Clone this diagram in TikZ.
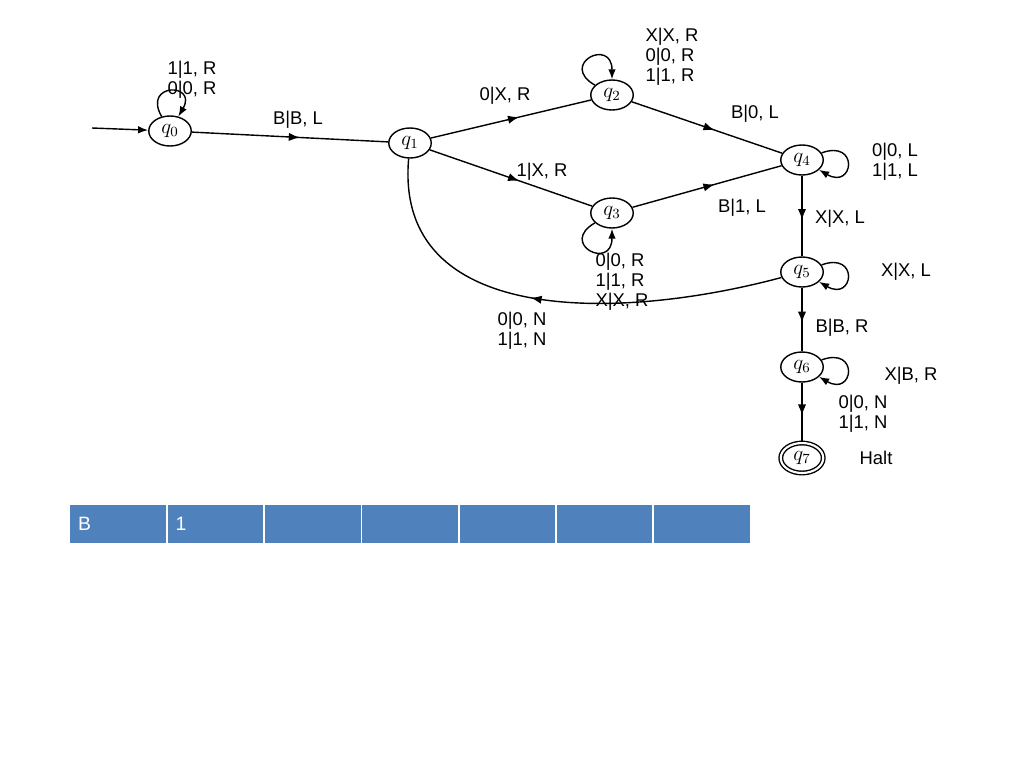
\documentclass[tikz,border=0pt]{standalone}
\usepackage{fontspec}
\setmainfont{Liberation Sans}
\usetikzlibrary{arrows.meta,shapes.geometric,decorations.markings}
\definecolor{cellblue}{RGB}{79,129,189}
\tikzset{
  state/.style={ellipse,draw,thick,minimum width=0.85cm,minimum height=0.6cm,inner sep=0pt,font=\large},
  midarrow/.style={thick,decoration={markings,mark=at position 0.55 with {\arrow{Latex[length=2.2mm]}}},postaction={decorate}},
  loopedge/.style={thick,-{Latex[length=2mm]},looseness=6},
  lbl/.style={font=\fontsize{10.5}{11.5}\selectfont,align=left,inner sep=1pt},
  cell/.style={fill=cellblue,draw=white,thick,minimum width=1.94cm,minimum height=0.78cm,text=white,anchor=north west,text width=1.6cm,align=left,font=\fontsize{11}{12}\selectfont}
}
\begin{document}
\begin{tikzpicture}[x=0.02cm,y=-0.02cm]
\useasboundingbox (0,0) rectangle (1024,768);
% states
\node[state] (q0) at (170,131) {$q_0$};
\node[state] (q1) at (410,143) {$q_1$};
\node[state] (q2) at (612,95) {$q_2$};
\node[state] (q3) at (612,213) {$q_3$};
\node[state] (q4) at (802,160) {$q_4$};
\node[state] (q5) at (802,272) {$q_5$};
\node[state] (q6) at (802,367) {$q_6$};
\node[state,double,double distance=1.2pt] (q7) at (802,458) {$q_7$};
\coordinate (start) at (92,128);
% transitions
\draw[thick,-{Latex[length=2mm]}] (start) -- (q0);
\draw[midarrow] (q0) -- (q1);
\draw[midarrow] (q1) -- (q2);
\draw[midarrow] (q1) -- (q3);
\draw[midarrow] (q2) -- (q4);
\draw[midarrow] (q3) -- (q4);
\draw[midarrow] (q4) -- (q5);
\draw[midarrow] (q5) -- (q6);
\draw[midarrow] (q6) -- (q7);
\draw[midarrow] (q5) to[out=195,in=-95,looseness=1.1] (q1);
% loops
\draw[loopedge] (q0) to[out=120,in=60] (q0);
\draw[loopedge] (q2) to[out=150,in=90] (q2);
\draw[loopedge] (q3) to[out=210,in=270] (q3);
\draw[loopedge] (q4) to[out=20,in=-30] (q4);
\draw[loopedge] (q5) to[out=20,in=-30] (q5);
\draw[loopedge] (q6) to[out=20,in=-30] (q6);
% labels
\node[lbl] (l0) at (192,80) {1|1, R\\0|0, R};
\node[lbl] (l01) at (298,120) {B|B, L};
\node[lbl] (l12) at (505,96) {0|X, R};
\node[lbl] (l2) at (672,57) {X|X, R\\0|0, R\\1|1, R};
\node[lbl] (l24) at (755,114) {B|0, L};
\node[lbl] (l13) at (542,172) {1|X, R};
\node[lbl] (l34) at (742,208) {B|1, L};
\node[lbl] (l4) at (895,162) {0|0, L\\1|1, L};
\node[lbl] (l45) at (840,219) {X|X, L};
\node[lbl] (l3) at (622,282) {0|0, R\\1|1, R\\X|X, R};
\node[lbl] (l5) at (906,272) {X|X, L};
\node[lbl] (l51) at (522,331) {0|0, N\\1|1, N};
\node[lbl] (l56) at (842,328) {B|B, R};
\node[lbl] (l6) at (911,376) {X|B, R};
\node[lbl] (l67) at (863,414) {0|0, N\\1|1, N};
\node[lbl] (halt) at (876,458) {Halt};
% tape
\foreach \i/\t in {0/B,1/1,2/,3/,4/,5/,6/} {
  \node[cell] (c\i) at ({69+97.3*\i},504) {\t};
}
\end{tikzpicture}
\end{document}
